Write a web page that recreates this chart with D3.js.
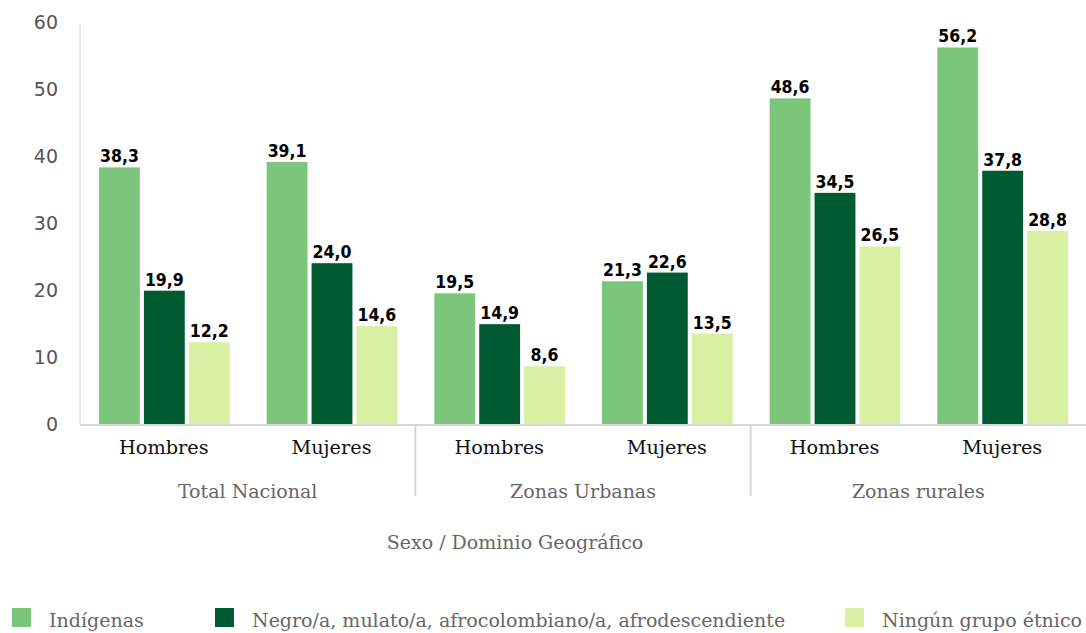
<!DOCTYPE html>
<html>
<head>
<meta charset="utf-8">
<script src="https://cdn.jsdelivr.net/npm/d3@7"></script>
<style>
  body { margin: 0; background: #fff; }
  .serif { font-family: "DejaVu Serif", serif; }
  .val { font-family: "DejaVu Sans Condensed", "DejaVu Sans", sans-serif; font-weight: bold; font-size: 17.5px; fill: #000; }
</style>
</head>
<body>
<svg class="chart" width="1086" height="633"></svg>
<script>
  //Chart data
  var groups = ["Total Nacional", "Zonas Urbanas", "Zonas rurales"];
  var sexes = ["Hombres", "Mujeres"];
  var series = ["Indígenas", "Negro/a, mulato/a, afrocolombiano/a, afrodescendiente", "Ningún grupo étnico"];
  var indigenas = [38.3, 39.1, 19.5, 21.3, 48.6, 56.2];
  var negro = [19.9, 24.0, 14.9, 22.6, 34.5, 37.8];
  var ninguno = [12.2, 14.6, 8.6, 13.5, 26.5, 28.8];
  var yTicks = [0, 10, 20, 30, 40, 50, 60];
  var colors = ["#7bc67b", "#005a32", "#d9f0a3"];

  var svg = d3.select(".chart");
  var plotLeft = 80, plotRight = 1086, plotTop = 22, plotBottom = 424;

  //One band per sex within each group
  var cats = [];
  groups.forEach(function(g){
    sexes.forEach(function(s){ cats.push(g + "|" + s); });
  });
  var values = [indigenas, negro, ninguno];

  var x0 = d3.scaleBand().domain(cats).range([plotLeft, plotRight]).paddingInner(0).paddingOuter(0);
  var x1 = d3.scaleBand().domain(d3.range(series.length)).range([19, x0.bandwidth() - 18]).paddingInner(0.09).paddingOuter(0);
  var y = d3.scaleLinear().domain([0, 60]).range([plotBottom, plotTop]);

  //Y axis line
  svg.append("line")
    .attr("x1", plotLeft).attr("x2", plotLeft)
    .attr("y1", y(60) + 2).attr("y2", plotBottom)
    .style("stroke", "#d0d0d0").style("stroke-width", 1);

  //Y tick labels
  svg.selectAll(".ytick").data(yTicks).enter().append("text")
    .attr("x", 58)
    .attr("y", function(d){ return y(d); })
    .attr("dy", "0.35em")
    .attr("text-anchor", "end")
    .style("font-family", "'DejaVu Sans', sans-serif")
    .style("font-size", "19px")
    .style("fill", "#555")
    .text(function(d){ return d; });

  //Bars and labels
  cats.forEach(function(c, ci){
    var g = svg.append("g").attr("transform", "translate(" + x0(c) + ",0)");
    values.forEach(function(vals, si){
      var v = vals[ci];
      g.append("rect")
        .attr("x", x1(si))
        .attr("y", y(v))
        .attr("width", x1.bandwidth())
        .attr("height", plotBottom - y(v))
        .style("fill", colors[si]);
      g.append("text")
        .attr("class", "val")
        .attr("x", x1(si) + x1.bandwidth() / 2)
        .attr("y", y(v) - 5)
        .attr("text-anchor", "middle")
        .text(d3.format(".1f")(v).replace(".", ","));
    });
    //Sex label
    svg.append("text")
      .attr("class", "serif")
      .attr("x", x0(c) + x0.bandwidth() / 2)
      .attr("y", 454)
      .attr("text-anchor", "middle")
      .style("font-size", "19.3px")
      .style("fill", "#111")
      .text(c.split("|")[1]);
  });

  //Baseline
  svg.append("line")
    .attr("x1", plotLeft).attr("x2", plotRight)
    .attr("y1", plotBottom + 1).attr("y2", plotBottom + 1)
    .style("stroke", "#d6d6d6").style("stroke-width", 2);

  //Group separators and labels
  groups.forEach(function(gname, gi){
    var start = x0(gname + "|" + sexes[0]);
    var end = x0(gname + "|" + sexes[1]) + x0.bandwidth();
    if (gi > 0) {
      svg.append("line")
        .attr("x1", start).attr("x2", start)
        .attr("y1", plotBottom).attr("y2", 496)
        .style("stroke", "#d6d6d6").style("stroke-width", 2);
    }
    svg.append("text")
      .attr("class", "serif")
      .attr("x", (start + end) / 2)
      .attr("y", 498)
      .attr("text-anchor", "middle")
      .style("font-size", "19px")
      .style("fill", "#666")
      .text(gname);
  });

  //Axis title
  svg.append("text")
    .attr("class", "serif")
    .attr("x", 515)
    .attr("y", 549)
    .attr("text-anchor", "middle")
    .style("font-size", "19px")
    .style("fill", "#666")
    .text("Sexo / Dominio Geográfico");

  //Legend
  var legendX = [12, 215, 845];
  series.forEach(function(s, i){
    svg.append("rect")
      .attr("x", legendX[i]).attr("y", 608)
      .attr("width", 19).attr("height", 19)
      .style("fill", colors[i]);
    svg.append("text")
      .attr("class", "serif")
      .attr("x", legendX[i] + 37)
      .attr("y", 627)
      .style("font-size", "19px")
      .style("fill", "#666")
      .text(s);
  });
</script>
</body>
</html>
